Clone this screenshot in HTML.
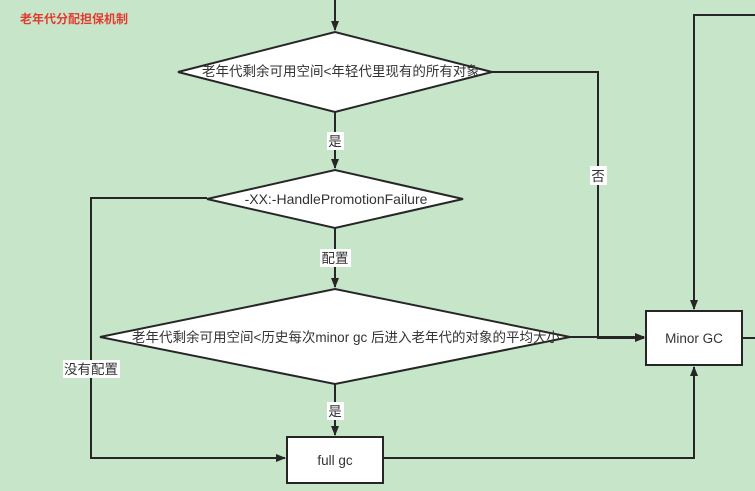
<!DOCTYPE html>
<html><head><meta charset="utf-8"><style>
body{margin:0;background:#c7e5c9;}
svg{display:block;font-family:"Liberation Sans","Noto Sans CJK SC",sans-serif;}
</style></head><body>
<svg width="755" height="491" viewBox="0 0 755 491">
<defs><marker id="a" markerWidth="10" markerHeight="8" refX="9" refY="4" orient="auto" markerUnits="userSpaceOnUse"><path d="M0,0 L10,4 L0,8 Z" fill="#262626"/></marker></defs>
<rect width="755" height="491" fill="#c7e5c9"/>
<text x="20" y="23" font-size="12" font-weight="bold" fill="#e23a2e">老年代分配担保机制</text>
<g stroke="#262626" stroke-width="2" fill="none">
<line x1="335" y1="0" x2="335" y2="30" marker-end="url(#a)"/>
<line x1="335" y1="112" x2="335" y2="168" marker-end="url(#a)"/>
<line x1="335" y1="228" x2="335" y2="287" marker-end="url(#a)"/>
<line x1="335" y1="384" x2="335" y2="435" marker-end="url(#a)"/>
<polyline points="492,72 598,72 598,338 644,338" marker-end="url(#a)"/>
<line x1="570" y1="337" x2="644" y2="337" marker-end="url(#a)"/>
<polyline points="207,198 91,198 91,458 285,458" marker-end="url(#a)"/>
<polyline points="383,458 694,458 694,367" marker-end="url(#a)"/>
<polyline points="755,15 694,15 694,309" marker-end="url(#a)"/>
<line x1="742" y1="338" x2="755" y2="338"/>
</g>
<g stroke="#262626" stroke-width="2" fill="#fff">
<polygon points="178,72 335,32 492,72 335,112"/>
<polygon points="207,199 335,170 463,199 335,228"/>
<polygon points="100,337 335,289 570,337 335,384"/>
<rect x="646" y="311" width="96" height="54"/>
<rect x="287" y="437" width="96" height="46"/>
</g>
<g font-size="13.5" fill="#333" text-anchor="middle">
<text x="341" y="76">老年代剩余可用空间&lt;年轻代里现有的所有对象</text>
<text x="336" y="204" font-size="14">-XX:-HandlePromotionFailure</text>
<text x="346" y="342">老年代剩余可用空间&lt;历史每次minor gc 后进入老年代的对象的平均大小</text>
<text x="694" y="343">Minor GC</text>
<text x="335" y="465">full gc</text>
</g>
<g fill="#fff"><rect x="327" y="132" width="17" height="18"/><rect x="320" y="249" width="31" height="18"/><rect x="327" y="402" width="17" height="18"/><rect x="590" y="166" width="17" height="19"/><rect x="63" y="360" width="57" height="18"/></g>
<g font-size="13.5" fill="#333" text-anchor="middle">
<text x="335" y="146">是</text><text x="335" y="263">配置</text><text x="335" y="416">是</text><text x="598" y="181">否</text><text x="91" y="374">没有配置</text>
</g>
</svg>
</body></html>
